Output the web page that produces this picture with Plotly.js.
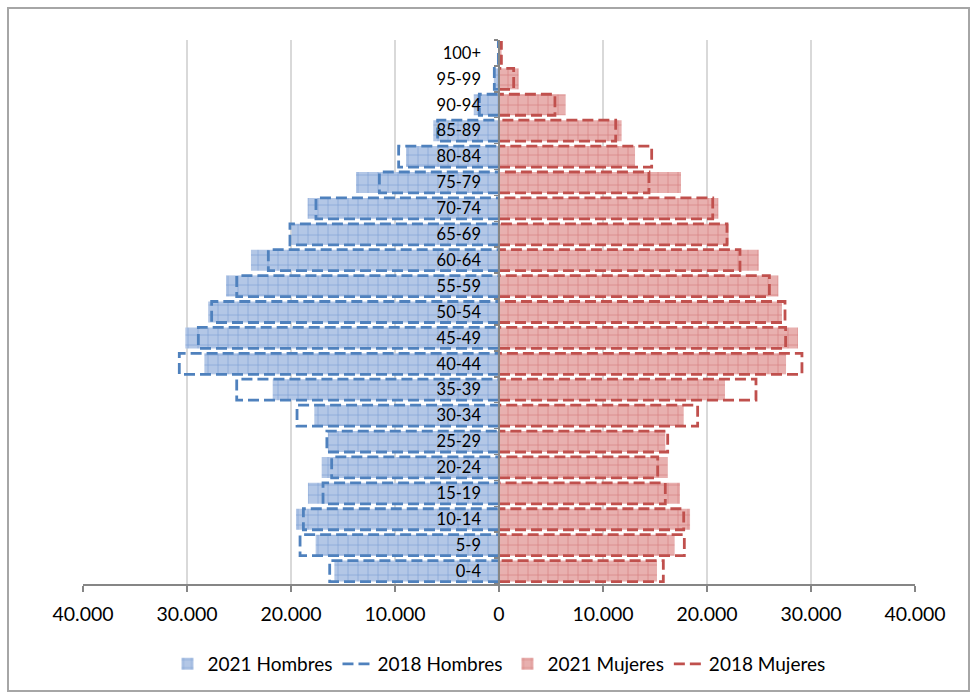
<!DOCTYPE html>
<html>
<head>
<meta charset="utf-8">
<script src="https://cdn.plot.ly/plotly-3.0.1.min.js"></script>
<style>
  html, body { margin: 0; padding: 0; background: #ffffff; }
  #frame { position: absolute; left: 7px; top: 7px; width: 963px; height: 685px; border: 2px solid #a6a6a6; box-sizing: border-box; }
  #chart { position: absolute; left: 0; top: 0; width: 977px; height: 695px; }
</style>
</head>
<body>
<div id="frame"></div>
<div id="chart"></div>
<script>
// Age groups, bottom to top
const categories = ['0-4','5-9','10-14','15-19','20-24','25-29','30-34','35-39','40-44','45-49','50-54','55-59','60-64','65-69','70-74','75-79','80-84','85-89','90-94','95-99','100+'];

const hombres2021 = [15830,17630,19520,18370,17050,16450,17760,21760,28330,30160,27950,26250,23850,19950,18400,13750,8940,6320,2430,500,80];
const hombres2018 = [16280,19130,18810,16920,16090,16550,19420,25220,30740,28910,27630,25220,22180,20100,17600,11500,9650,5900,1890,450,60];
const mujeres2021 = [15190,16890,18370,17400,16220,15990,17760,21730,27600,28750,27210,26860,24970,22080,21090,17500,13080,11790,6410,1890,250];
const mujeres2018 = [15800,17820,17760,15990,15260,16220,19100,24710,29130,27560,27500,26000,23170,21920,20550,14420,14680,11220,5380,1410,230];

const xTickVals = [-40000,-30000,-20000,-10000,0,10000,20000,30000,40000];
const xTickText = ['40.000','30.000','20.000','10.000','0','10.000','20.000','30.000','40.000'];

const idx = categories.map((c, i) => i);
const half = 0.405;
const boundaries = categories.concat(['']).map((c, i) => i - 0.5);

function outline(values, sign) {
  const xs = [], ys = [];
  values.forEach((v, i) => {
    xs.push(0, sign * v, sign * v, 0, null);
    ys.push(i - half, i - half, i + half, i + half, null);
  });
  return { xs, ys };
}

const FONT = 'Lato, "Open Sans", "Liberation Sans", sans-serif';
const BLUE = '#4f81bd', RED = '#c0504d';

const oH = outline(hombres2018, -1);
const oM = outline(mujeres2018, 1);

const traces = [
  {
    type: 'bar', orientation: 'h', name: '2021 Hombres',
    y: idx, x: hombres2021.map(v => -v),
    marker: { color: '#b3c7e6', line: { width: 0 },
      pattern: { shape: '+', bgcolor: '#b3c7e6', fgcolor: '#7a9fd3', size: 10, solidity: 0.12 } },
    hoverinfo: 'skip'
  },
  {
    type: 'scatter', mode: 'lines', name: '2018 Hombres',
    x: oH.xs, y: oH.ys,
    line: { color: BLUE, width: 2.8, dash: '11px,5px' },
    hoverinfo: 'skip'
  },
  {
    type: 'bar', orientation: 'h', name: '2021 Mujeres',
    y: idx, x: mujeres2021,
    marker: { color: '#e8b0af', line: { width: 0 },
      pattern: { shape: '+', bgcolor: '#e8b0af', fgcolor: '#d47c7a', size: 10, solidity: 0.12 } },
    hoverinfo: 'skip'
  },
  {
    type: 'scatter', mode: 'lines', name: '2018 Mujeres',
    x: oM.xs, y: oM.ys,
    line: { color: RED, width: 2.8, dash: '11px,5px' },
    hoverinfo: 'skip'
  },
  {
    type: 'scatter', mode: 'lines', yaxis: 'y2', x: [0, 0], y: [-0.5, 20.5],
    line: { width: 0 }, showlegend: false, hoverinfo: 'skip'
  }
];

const layout = {
  width: 977, height: 695,
  margin: { l: 83, r: 62, t: 40, b: 111 },
  paper_bgcolor: 'rgba(0,0,0,0)',
  plot_bgcolor: 'rgba(0,0,0,0)',
  font: { family: FONT, color: '#000000' },
  barmode: 'overlay',
  bargap: 0.19,
  showlegend: true,
  legend: {
    orientation: 'h', x: 0.5, xanchor: 'center', y: -0.112, yanchor: 'top',
    font: { family: FONT, size: 19, color: '#000000' },
    itemwidth: 30, traceorder: 'normal'
  },
  xaxis: {
    range: [-40000, 40000],
    tickvals: xTickVals, ticktext: xTickText,
    showline: true, linecolor: '#868686', linewidth: 2,
    ticks: 'outside', ticklen: 6, tickwidth: 1.5, tickcolor: '#868686',
    showgrid: true, gridcolor: '#d9d9d9', gridwidth: 1.5,
    zeroline: false,
    ticklabelstandoff: 6,
    tickfont: { family: FONT, size: 19.5, color: '#000000' },
    fixedrange: true
  },
  yaxis: {
    range: [-0.5, 20.5],
    tickvals: idx, ticktext: categories,
    anchor: 'free', position: 0.5, side: 'left',
    showline: false, ticks: '', showgrid: false, zeroline: false,
    ticklabelstandoff: 18,
    tickfont: { family: FONT, size: 16.5, color: '#000000' },
    fixedrange: true
  },
  yaxis2: {
    range: [-0.5, 20.5], overlaying: 'y',
    anchor: 'free', position: 0.5, side: 'left',
    tickvals: boundaries, showticklabels: false,
    ticks: 'outside', ticklen: 4, tickwidth: 1.5, tickcolor: '#868686',
    showline: true, linecolor: '#868686', linewidth: 2,
    showgrid: false, zeroline: false, fixedrange: true
  }
};

Plotly.newPlot('chart', traces, layout, { displayModeBar: false, staticPlot: true });
</script>
</body>
</html>
